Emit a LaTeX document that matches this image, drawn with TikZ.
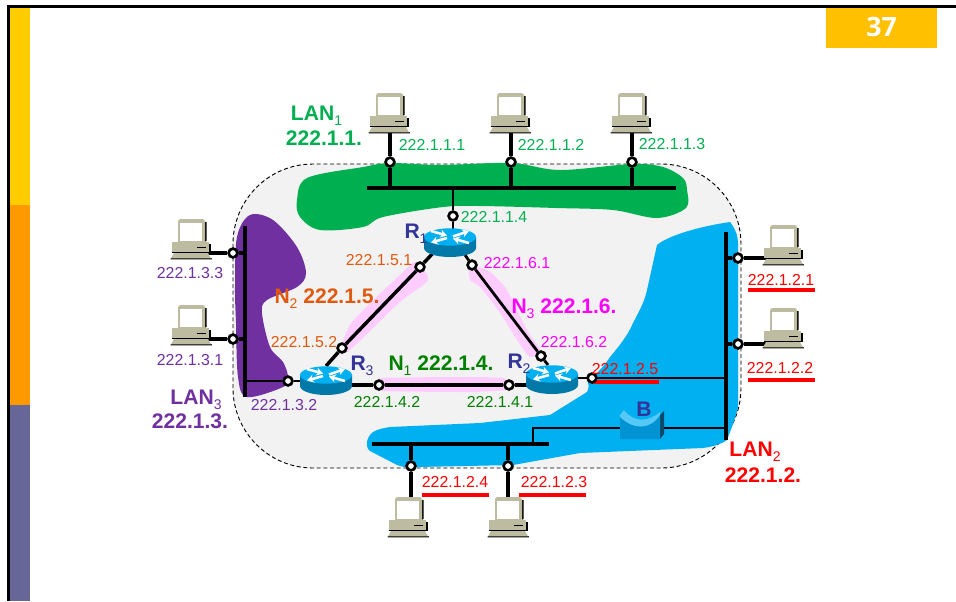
\documentclass[tikz,border=0pt]{standalone}
\usepackage{fontspec}
\setmainfont{Liberation Sans}
\newfontfamily\pagenumfont{Open Sans}
\usetikzlibrary{arrows.meta}
\pgfdeclarelayer{bg}
\pgfdeclarelayer{wires}
\pgfsetlayers{bg,wires,main}
\newcommand\lowidx[1]{\raisebox{-0.25em}{\fontsize{10.5}{11}\selectfont\mdseries #1}}
\definecolor{lanone}{HTML}{00B050}
\definecolor{lantwo}{HTML}{00B0F0}
\definecolor{lanthree}{HTML}{7030A0}
\definecolor{pinkband}{HTML}{FFCCFF}
\definecolor{cloudgray}{HTML}{F2F2F2}
\definecolor{pcbody}{HTML}{BDBBA0}
\definecolor{orangetxt}{HTML}{E0590F}
\definecolor{magentatxt}{HTML}{FF00FF}
\definecolor{darkgreentxt}{HTML}{008000}
\definecolor{routertxt}{HTML}{333399}
\definecolor{redtxt}{HTML}{FF0000}
\definecolor{stripa}{HTML}{FFCC00}
\definecolor{stripb}{HTML}{FF9900}
\definecolor{stripc}{HTML}{666699}
\definecolor{pagebox}{HTML}{FFC000}
\definecolor{routerside}{HTML}{0078A8}
\definecolor{bridgefront}{HTML}{0093D3}
\definecolor{bridgetop}{HTML}{55C8F5}
\definecolor{bridgeside}{HTML}{0B4A68}
\tikzset{
  ip/.style={inner sep=0pt,font=\fontsize{11.9}{14}\selectfont},
  big/.style={inner sep=0pt,font=\fontsize{15.8}{18}\selectfont\bfseries},
  rlabel/.style={inner sep=0pt,text=routertxt,font=\fontsize{15.8}{18}\selectfont\bfseries},
  port/.style={circle,draw=black,fill=white,line width=2pt,minimum size=6.6pt,inner sep=0pt},
  bus/.style={line width=3.3pt,black},
  wire/.style={line width=2.6pt,black},
  thinwire/.style={line width=2.1pt,black},
  blob/.style={smooth cycle,tension=0.55},
  routerarrow/.style={white,line width=1.9pt,-{Stealth[length=5pt,width=6pt]}},
  computer/.pic={
    \fill[black] (14.5,-17) -- (14.5,2) -- (12,3) -- (12,-17) -- cycle;
    \fill[pcbody] (-14,2) -- (-14,-17) [rounded corners=2pt] -- (-14,-20) -- (13,-20) -- (13,-17) [sharp corners] -- (13,3) -- (-14,3) -- cycle;
    \fill[white] (-12.5,-16) rectangle (10,2);
    \fill[black] (-20,5) rectangle (18.5,14);
    \fill[pcbody] (-20,3) rectangle (17,13);
    \fill[black] (5,7.6) rectangle (14,8.8);
    \fill[black] (-21,19) -- (19.5,19) -- (20,20.4) -- (-21.5,20.4) -- cycle;
    \fill[pcbody] (-18,14) -- (16,14) -- (19,19.4) -- (-21,19.4) -- cycle;
  },
  router/.pic={
    \fill[routerside] (-26,-6) -- (-26,5) arc[start angle=180,end angle=0,x radius=26,y radius=9] -- (26,-6) -- cycle;
    \fill[lantwo] (0,-6) ellipse[x radius=26,y radius=8.7];
    \draw[routerarrow] (-19,-12) -- (-3,-7.5);
    \draw[routerarrow] (3,-6.5) -- (19,-12);
    \draw[routerarrow] (-3,-5) -- (-19,-0.5);
    \draw[routerarrow] (19,0) -- (3,-4.5);
  },
  bridge/.pic={
    \fill[bridgeside] (18,-13) -- (22,-17) -- (22,6) -- (18,11) -- cycle;
    \fill[bridgefront] (-22,-11) .. controls (-8,2) and (8,2) .. (18,-13) -- (18,11) -- (-22,11) -- cycle;
    \fill[bridgetop] (-22,-13) -- (-18,-18) .. controls (-8,-5) and (6,-6) .. (18,-16) -- (18,-13) .. controls (8,2) and (-8,2) .. (-22,-11) -- cycle;
  },
}
\begin{document}
\begin{tikzpicture}[x=0.75pt,y=-0.75pt]
\useasboundingbox (0,0) rectangle (956,601);
% page furniture
\begin{pgfonlayer}{bg}
\fill[white] (0,0) rectangle (956,601);
\end{pgfonlayer}
\fill[black] (7,5) rectangle (956,8);
\fill[black] (7,5) rectangle (10,601);
\fill[stripa] (10,8) rectangle (30,205);
\fill[stripb] (10,205) rectangle (30,405);
\fill[stripc] (10,405) rectangle (30,601);
\fill[pagebox] (826,8) rectangle (937,48);
\node[inner sep=0pt,text=white,font=\pagenumfont\fontsize{20}{22}\selectfont\bfseries] (pagenum) at (881.5,26.5) {37};

% named positions
\coordinate (pc1) at (390,113);
\coordinate (pc2) at (511,113);
\coordinate (pc3) at (632,113);
\coordinate (pc4) at (192,239);
\coordinate (pc5) at (192,325);
\coordinate (pc6) at (784,245);
\coordinate (pc7) at (784,328);
\coordinate (pc8) at (409,517);
\coordinate (pc9) at (509,517);
\coordinate (pc4p) at (208,253);
\coordinate (pc5p) at (208,339);
\coordinate (pc6p) at (767,258);
\coordinate (pc7p) at (767,344);
\coordinate (R1) at (450,243);
\coordinate (R2) at (552,380);
\coordinate (R3) at (326,381);
\coordinate (R1sw) at (434,252);
\coordinate (R1se) at (465,255);
\coordinate (R2n) at (548,365);
\coordinate (R3ne) at (326,366);
\coordinate (B) at (642,428);
\coordinate (lan1a) at (367,188);
\coordinate (lan1b) at (676,188);
\coordinate (lan2a) at (726,232);
\coordinate (lan2b) at (726,440);
\coordinate (lan2c) at (372,444);
\coordinate (lan2d) at (549,444);
\coordinate (lan3a) at (245,226);
\coordinate (lan3b) at (245,397);
\coordinate (hub) at (533,444);

% backdrop shapes
\begin{pgfonlayer}{bg}
\draw[fill=cloudgray,line width=0.7pt,dash pattern=on 3pt off 2pt,rounded corners=60pt] (233,164) rectangle (741,468);
\fill[lanone] plot[blob] coordinates {(297,200) (307,178) (363,167) (390,163) (440,165) (511,163) (560,170) (632,164) (663,167) (683,178) (687,190) (686,208) (657,218) (613,210) (557,208) (480,206) (443,207) (383,217) (363,227) (320,230) (300,217)};
\fill[lanthree] plot[blob] coordinates {(250,215) (273,220) (297,247) (306,273) (297,287) (267,300) (262,313) (270,347) (283,362) (288,377) (283,387) (247,397) (238,377) (236,323) (235,287) (237,237)};
\fill[lantwo] (657,245) .. controls (665,238) and (690,228) .. (730,222) .. controls (735,228) and (738,236) .. (738,243) -- (738,343) -- (738,407) .. controls (735,420) and (730,432) .. (727,440) .. controls (720,445) and (710,447) .. (703,448) -- (580,453) -- (513,465) -- (417,467) .. controls (405,468) and (400,466) .. (397,465) -- (372,452) .. controls (365,450) and (365,438) .. (373,432) .. controls (378,429) and (384,428) .. (390,427) -- (480,423) -- (550,415) -- (587,392) .. controls (589,388) and (589,385) .. (588,382) .. controls (600,370) and (605,365) .. (610,357) .. controls (620,345) and (628,335) .. (633,323) .. controls (640,310) and (645,300) .. (647,290) -- cycle;
\fill[pinkband] plot[smooth cycle,tension=0.4] coordinates {(341,350) (352,322) (405,270) (417,262) (428,280) (400,302) (350,350)};
\fill[pinkband] plot[smooth cycle,tension=0.4] coordinates {(470,265) (490,272) (507,290) (527,330) (540,350) (530,357) (517,340) (500,313) (480,287) (470,280)};
\fill[pinkband] plot[smooth cycle,tension=0.3] coordinates {(382,378) (470,377) (503,378) (510,384) (505,390) (470,392) (382,391) (378,385)};
\end{pgfonlayer}

% ports
\node[port] (p1) at (390,162) {};
\node[port] (p2) at (511,162) {};
\node[port] (p3) at (632,162) {};
\node[port] (p4) at (453,216) {};
\node[port] (p5) at (233,253) {};
\node[port] (p6) at (233,339) {};
\node[port] (p7) at (288,381) {};
\node[port] (p8) at (342,348) {};
\node[port] (p9) at (420,267) {};
\node[port] (p10) at (472,265) {};
\node[port] (p11) at (541,356) {};
\node[port] (p12) at (379,385) {};
\node[port] (p13) at (509,385) {};
\node[port] (p15) at (738,258) {};
\node[port] (p16) at (738,344) {};
\node[port] (p17) at (411,466) {};
\node[port] (p18) at (508,466) {};
\coordinate (p14c) at (592,378);

% connectors
\begin{pgfonlayer}{wires}
\draw[bus] (lan1a) -- (lan1b);
\draw[bus] (lan2a) -- (lan2b);
\draw[bus] (lan2c) -- (lan2d);
\draw[bus] (lan3a) -- (lan3b);
\draw[wire] (pc1) -- (p1) -- (p1 |- lan1a);
\draw[wire] (pc2) -- (p2) -- (p2 |- lan1a);
\draw[wire] (pc3) -- (p3) -- (p3 |- lan1a);
\draw[thinwire] (p4 |- lan1a) -- (p4) -- (p4 |- R1);
\draw[wire] (pc4p) -- (p5) -- (p5 -| lan3a);
\draw[wire] (pc5p) -- (p6) -- (p6 -| lan3a);
\draw[thinwire] (p7 -| lan3a) -- (p7) -- (p7 -| R3);
\draw[wire] (R3ne) -- (p8) -- (p9) -- (R1sw);
\draw[thinwire] (R1se) -- (p10) -- (p11) -- (R2n);
\draw[wire] (p12 -| R3) -- (p12) -- (p13) -- (p13 -| R2);
\draw[thinwire] (p14c -| R2) -- (p14c) -- (p14c -| lan2a);
\draw[wire] (pc6p) -- (p15) -- (p15 -| lan2a);
\draw[wire] (pc7p) -- (p16) -- (p16 -| lan2a);
\draw[thinwire] (hub) -- (hub |- B) -- (B) -- (B -| lan2a);
\draw[wire] (p17 |- lan2c) -- (p17) -- (p17 |- pc8);
\draw[wire] (p18 |- lan2c) -- (p18) -- (p18 |- pc9);
\end{pgfonlayer}

% equipment
\foreach \c in {pc1,pc2,pc3,pc4,pc5,pc6,pc7,pc8,pc9} {\pic at (\c) {computer};}
\foreach \c in {R1,R2,R3} {\pic at (\c) {router};}
\pic at (B) {bridge};

% red underlines
\fill[redtxt] (748,288) rectangle (815,292);
\fill[redtxt] (748,378) rectangle (815,382);
\fill[redtxt] (592,380) rectangle (659,384);
\fill[redtxt] (422,493) rectangle (489,497);
\fill[redtxt] (519,493) rectangle (586,497);
\node[port] (p14) at (p14c) {};

% labels
\node[big,text=lanone] (t1) at (316.5,115.5) {LAN\lowidx{1}};
\node[big,text=lanone] (t2) at (324,138) {222.1.1.};
\node[ip,text=lanone] (t3) at (432,145) {222.1.1.1};
\node[ip,text=lanone] (t4) at (551,145) {222.1.1.2};
\node[ip,text=lanone] (t5) at (672,144) {222.1.1.3};
\node[ip,text=lanone] (t6) at (494,217) {222.1.1.4};
\node[rlabel] (t7) at (416,234) {R\lowidx{1}};
\node[ip,text=orangetxt] (t8) at (379,260) {222.1.5.1};
\node[ip,text=magentatxt] (t9) at (517,263) {222.1.6.1};
\node[big,text=orangetxt] (t10) at (327,299) {N\lowidx{2} 222.1.5.};
\node[big,text=magentatxt] (t11) at (564,309) {N\lowidx{3} 222.1.6.};
\node[ip,text=orangetxt] (t12) at (304,342) {222.1.5.2};
\node[ip,text=magentatxt] (t13) at (574,342) {222.1.6.2};
\node[rlabel] (t14) at (362,366) {R\lowidx{3}};
\node[big,text=darkgreentxt] (t15) at (441,366) {N\lowidx{1} 222.1.4.};
\node[rlabel] (t16) at (519,364) {R\lowidx{2}};
\node[ip,text=redtxt] (t17) at (625,369) {222.1.2.5};
\node[ip,text=darkgreentxt] (t18) at (387,402) {222.1.4.2};
\node[ip,text=darkgreentxt] (t19) at (500,402) {222.1.4.1};
\node[ip,text=lanthree] (t20) at (284,405) {222.1.3.2};
\node[ip,text=lanthree] (t21) at (190,360) {222.1.3.1};
\node[ip,text=lanthree] (t22) at (190,273) {222.1.3.3};
\node[big,text=lanthree] (t23) at (196,400) {LAN\lowidx{3}};
\node[big,text=lanthree] (t24) at (190,421.5) {222.1.3.};
\node[big,text=redtxt] (t25) at (755,452) {LAN\lowidx{2}};
\node[big,text=redtxt] (t26) at (763,475) {222.1.2.};
\node[rlabel] (t27) at (644,409) {B};
\node[ip,text=redtxt] (t28) at (781,280) {222.1.2.1};
\node[ip,text=redtxt] (t29) at (780,368) {222.1.2.2};
\node[ip,text=redtxt] (t30) at (455,482) {222.1.2.4};
\node[ip,text=redtxt] (t31) at (554,482) {222.1.2.3};
\end{tikzpicture}
\end{document}
